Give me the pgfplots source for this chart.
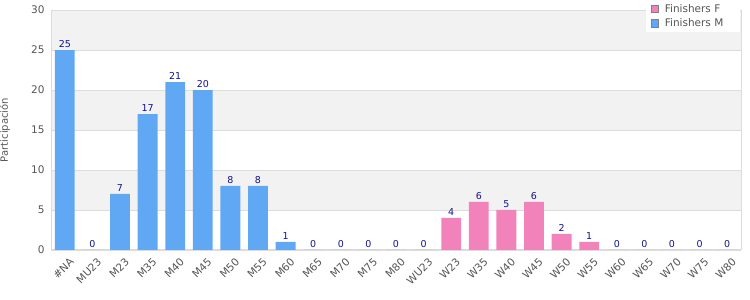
\documentclass[border=0pt]{standalone}
\usepackage{pgfplots}
\pgfplotsset{compat=1.18}
\usepackage{fontspec}
\setmainfont{DejaVu Sans}
\definecolor{barM}{RGB}{96,168,244}
\definecolor{barF}{RGB}{242,130,186}
\definecolor{lbl}{RGB}{20,20,130}
\definecolor{band}{RGB}{242,242,242}
\definecolor{gridc}{RGB}{220,220,220}
\definecolor{tickc}{RGB}{85,85,85}
\begin{document}
\begin{tikzpicture}
\begin{axis}[
  set layers,
  at={(51pt,50pt)}, anchor=south west,
  scale only axis, width=690pt, height=240pt,
  xmin=-0.5, xmax=24.5, ymin=0, ymax=30,
  ytick={0,5,...,30},
  xtick={0,...,24},
  xticklabels={\#NA,MU23,M23,M35,M40,M45,M50,M55,M60,M65,M70,M75,M80,WU23,W23,W35,W40,W45,W50,W55,W60,W65,W70,W75,W80},
  x tick label style={rotate=45, anchor=north east, font=\fontsize{10.5}{11}\selectfont, text=tickc, inner sep=0pt, yshift=-8pt, xshift=-2pt},
  y tick label style={font=\fontsize{10.5}{12}\selectfont, text=tickc, xshift=-3pt},
  /pgf/number format/assume math mode=true,
  major tick length=0pt,
  ymajorgrids, grid style={gridc, line width=0.8pt},
  axis line style={draw=gridc, line width=1pt},
  ylabel={Participación},
  ylabel style={font=\fontsize{10}{10}\selectfont, text=tickc, at={(axis description cs:-0.0667,0.5)}, anchor=center},
  ybar, bar shift=0pt, bar width=0.72,
  nodes near coords,
  nodes near coords style={font=\fontsize{9.5}{10}\selectfont, text=lbl, inner sep=2pt},
  legend style={at={(1,1)}, anchor=north east, yshift=10pt, xshift=-1pt, draw=none, fill=white, font=\fontsize{10.5}{12}\selectfont, text=tickc, row sep=1pt, inner ysep=2pt, inner xsep=5pt},
  legend cell align=left,
  legend image code/.code={\draw[draw=gray,line width=0.8pt,#1] (0pt,-3.8pt) rectangle (7.5pt,3.7pt);},
]
\begin{pgfonlayer}{axis background}
\fill[band] (axis cs:-0.5,25) rectangle (axis cs:24.5,30);
\fill[band] (axis cs:-0.5,15) rectangle (axis cs:24.5,20);
\fill[band] (axis cs:-0.5,5) rectangle (axis cs:24.5,10);
\end{pgfonlayer}
\addplot[fill=barF, draw=none] coordinates {(14,4) (15,6) (16,5) (17,6) (18,2) (19,1) (20,0) (21,0) (22,0) (23,0) (24,0)};
\addlegendentry{\makebox[72pt][l]{\hspace*{4pt}Finishers F}}
\addplot[fill=barM, draw=none] coordinates {(0,25) (1,0) (2,7) (3,17) (4,21) (5,20) (6,8) (7,8) (8,1) (9,0) (10,0) (11,0) (12,0) (13,0)};
\addlegendentry{\makebox[72pt][l]{\hspace*{4pt}Finishers M}}
\end{axis}
\pgfresetboundingbox
\useasboundingbox (0,0) rectangle (750pt,300pt);
\end{tikzpicture}
\end{document}
